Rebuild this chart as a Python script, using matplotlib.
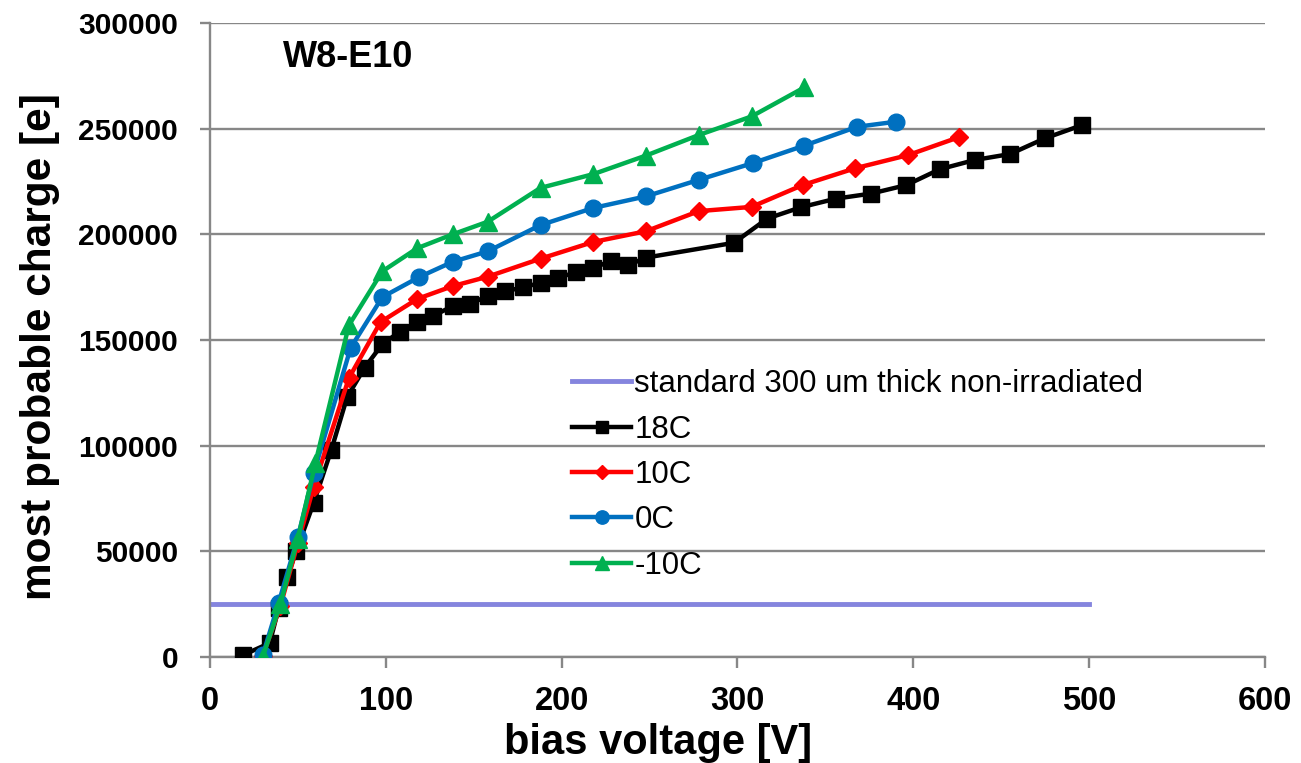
import numpy as np
import matplotlib.pyplot as plt

plt.rcParams['font.family'] = ['Liberation Sans', 'DejaVu Sans']

# reference level for a standard 300 um non-irradiated sensor
ref_v = [0, 500]
ref_q = [25000, 25000]

# measured most probable charge vs bias voltage, W8-E10
v_18c = [19, 34, 39, 44, 49, 59, 69, 78, 88, 98, 108, 118, 127, 138, 148, 158,
         168, 178, 188, 198, 208, 218, 228, 238, 248, 298, 317, 336, 356, 376,
         396, 415, 435, 455, 475, 496]
q_18c = [1000, 6600, 23000, 38000, 50000, 73000, 98000, 123000, 137000, 148000,
         154000, 158500, 161500, 166000, 167000, 171000, 173000, 175000, 177000,
         179500, 182000, 184000, 187500, 185500, 189000, 196000, 207500, 212800,
         216900, 219300, 223300, 230800, 235200, 238000, 245500, 251700]

v_10c = [30, 40, 50, 59, 79, 97, 118, 138, 158, 188, 218, 248, 278, 308, 337,
         367, 397, 426]
q_10c = [500, 24000, 54000, 80600, 132000, 158500, 169500, 175500, 180000, 188500,
         196400, 201500, 211000, 213000, 223300, 231300, 237500, 246000]

v_0c = [30, 39, 50, 59, 80, 98, 119, 138, 158, 188, 218, 248, 278, 309, 338,
        368, 390]
q_0c = [800, 25500, 56800, 87000, 146300, 170300, 179800, 187000, 192000, 204400,
        212500, 218000, 225800, 233800, 242000, 250900, 253300]

v_m10c = [30, 40, 50, 60, 79, 98, 118, 138, 158, 188, 218, 248, 278, 308, 338]
q_m10c = [0, 25000, 56000, 92000, 157000, 182500, 193500, 200000, 206000, 222000,
          228500, 237300, 247000, 255800, 269500]

fig = plt.figure(figsize=(13.01, 7.63), dpi=100)
ax = fig.add_axes([0.1614, 0.1389, 0.8109, 0.8309])

ax.plot(ref_v, ref_q, color='#8585DE', lw=3.5, label='standard 300 um thick non-irradiated', zorder=2)
ax.plot(v_18c, q_18c, color='black', lw=3.2, marker='s', ms=11, label='18C', zorder=3)
ax.plot(v_10c, q_10c, color='#FF0000', lw=3.2, marker='D', ms=9.5, label='10C', zorder=4)
ax.plot(v_0c, q_0c, color='#0070C0', lw=3.2, marker='o', ms=12, label='0C', zorder=5)
ax.plot(v_m10c, q_m10c, color='#00B050', lw=3.2, marker='^', ms=13, label='-10C', zorder=6)

ax.set_xlim(0, 600)
ax.set_ylim(0, 300000)
ax.set_xticks(np.arange(0, 601, 100))
ax.set_yticks(np.arange(0, 300001, 50000))
ax.yaxis.grid(True, color='#878787', lw=1.7)
ax.set_axisbelow(True)

for s in ['top', 'right']:
    ax.spines[s].set_visible(False)
for s in ['left', 'bottom']:
    ax.spines[s].set_color('#878787')
    ax.spines[s].set_linewidth(1.7)

ax.tick_params(axis='x', length=8, width=1.7, color='#878787', pad=13, labelsize=23.5)
ax.tick_params(axis='y', length=7, width=1.7, color='#878787', pad=16, labelsize=21.5)
for lab in ax.get_xticklabels() + ax.get_yticklabels():
    lab.set_fontweight('bold')

ax.set_xlabel('bias voltage [V]', fontsize=30, fontweight='bold')
ax.xaxis.set_label_coords(0.425, -0.104)
ax.set_ylabel('most probable charge [e]', fontsize=30.5, fontweight='bold')
ax.yaxis.set_label_coords(-0.142, 0.49)

ax.text(0.069, 0.946, 'W8-E10', transform=ax.transAxes, fontsize=26,
        fontweight='bold', va='center', ha='left')

ax.legend(loc='upper left', bbox_to_anchor=(0.343, 0.4538), frameon=False,
          fontsize=22.5, handlelength=1.9, handletextpad=0.1, labelspacing=0.49,
          borderpad=0, borderaxespad=0, markerscale=0.8)

fig.savefig('out.png', dpi=100)
